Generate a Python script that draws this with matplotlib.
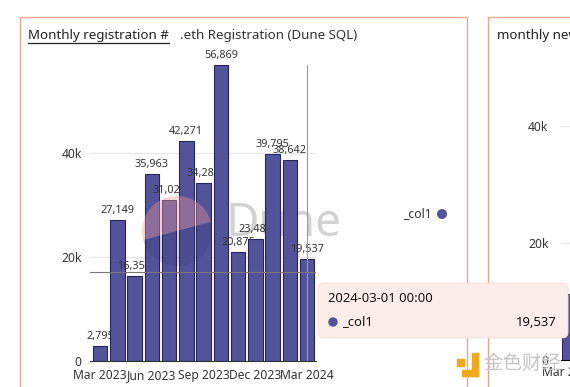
import matplotlib.pyplot as plt
from matplotlib.patches import Rectangle, FancyBboxPatch, Circle, Wedge

# data
months = ["Mar 2023", "Apr 2023", "May 2023", "Jun 2023", "Jul 2023", "Aug 2023",
          "Sep 2023", "Oct 2023", "Nov 2023", "Dec 2023", "Jan 2024", "Feb 2024", "Mar 2024"]
registrations = [2795, 27149, 16350, 35963, 31020, 42271, 34280, 56869,
                 20875, 23480, 39795, 38642, 19537]
tick_labels = ["Mar 2023", "Jun 2023", "Sep 2023", "Dec 2023", "Mar 2024"]
yticks = [0, 20000, 40000]
ytick_labels = ["0", "20k", "40k"]
side_values = [11200]
side_months = ["Mar 2023"]

bar_color = "#53539a"
edge_color = "#26265e"
border_color = "#e8a791"
plt.rcParams["font.family"] = ["Noto Sans", "DejaVu Sans"]

W, H = 570, 387
fig = plt.figure(figsize=(W / 100, H / 100), dpi=100)


def box(left, right, bottom, top):
    return [left / W, 1 - bottom / H, (right - left) / W, (bottom - top) / H]


def pixel_axes(z):
    a = fig.add_axes([0, 0, 1, 1], zorder=z)
    a.set_xlim(0, W)
    a.set_ylim(H, 0)
    a.axis("off")
    a.patch.set_visible(False)
    return a


# background layer: "Dune" word sits behind the bars
bg = pixel_axes(-1)
bg.text(225, 224, "Dune", fontsize=33, fontweight="bold", color="#d2d2d2", va="center")

# main chart
ax = fig.add_axes(box(90, 316, 361, 62))
ax.patch.set_visible(False)
x = list(range(len(months)))
bars = ax.bar(x, registrations, width=0.84, color=bar_color, edgecolor=edge_color,
              linewidth=0.8)
# bar i, then its label, then bar i+1 on top (labels get clipped like in Dune)
for i, v in enumerate(registrations):
    bars[i].set_zorder(3 + 2 * i)
    ax.annotate(f"{v:,}", (i, v), xytext=(0, 3), textcoords="offset points",
                ha="center", va="bottom", fontsize=7.8, color="#333333", zorder=4 + 2 * i)
ax.set_xlim(-0.58, 12.52)
ax.set_ylim(0, 57500)
ax.set_yticks(yticks, ytick_labels)
ax.set_xticks([months.index(t) for t in tick_labels], tick_labels)
ax.tick_params(length=0, labelsize=8.7, colors="#333333")
ax.tick_params(axis="y", pad=6)
ax.tick_params(axis="x", pad=5.5)
ax.grid(axis="y", color="#e6e6e6", linewidth=0.8, zorder=0)
ax.set_axisbelow(True)
for s in ["top", "right", "left"]:
    ax.spines[s].set_visible(False)
ax.spines["bottom"].set_color("#333333")
ax.spines["bottom"].set_zorder(40)
# hover crosshair
ax.axvline(12, 0, 0.99, color="#9a9a9a", linewidth=0.8, zorder=40)
ax.axhline(17115, color="#777777", linewidth=0.8, zorder=40)

# second (cut off) chart
ax2 = fig.add_axes(box(561, 621, 360, 67))
ax2.bar(range(len(side_values)), side_values, width=0.85, color=bar_color,
        edgecolor=edge_color, linewidth=0.8, zorder=3)
ax2.set_xlim(-0.5, 3.5)
ax2.set_ylim(0, 50000)
ax2.set_yticks(yticks, ytick_labels)
ax2.set_xticks(range(len(side_months)), side_months)
ax2.tick_params(length=0, labelsize=8.7, colors="#333333")
ax2.tick_params(axis="y", pad=9)
ax2.tick_params(axis="x", pad=4)
ax2.grid(axis="y", color="#e6e6e6", linewidth=0.8, zorder=0)
for s in ["top", "right", "left"]:
    ax2.spines[s].set_visible(False)

# translucent logo disc over the bars
mid = pixel_axes(1)
mid.add_patch(Wedge((177, 231), 35, 165, 345, color="#f29a9a", alpha=0.38, linewidth=0))
mid.add_patch(Wedge((177, 231), 35, 345, 165, color="#2a2a66", alpha=0.18, linewidth=0))

# foreground layer in pixel coordinates
ov = pixel_axes(10)
ov.add_patch(Rectangle((20, 17), 447, 420, fill=False, edgecolor=border_color, linewidth=1))
ov.add_patch(Rectangle((488, 17), 120, 420, fill=False, edgecolor=border_color, linewidth=1))

ov.text(28, 36, "Monthly registration #", fontsize=9.6, color="#222222", va="center")
ov.plot([28, 169], [43, 43], color="#222222", linewidth=0.9)
ov.text(180, 36, ".eth Registration (Dune SQL)", fontsize=9.6, color="#333333", va="center")
ov.text(497, 36, "monthly new registrations", fontsize=9.6, color="#222222", va="center")

# legend
ov.text(432, 214, "_col1", fontsize=8.8, color="#333333", ha="right", va="center")
ov.add_patch(Circle((442, 214), 4.3, color=bar_color))

# tooltip
ov.add_patch(FancyBboxPatch((318, 283), 250, 55, boxstyle="round,pad=0,rounding_size=6",
                            facecolor="#fdedea", edgecolor="#f6dcd6", linewidth=0.6, zorder=5))
ov.text(328, 299, "2024-03-01 00:00", fontsize=9.4, color="#111111", va="center", zorder=6)
ov.add_patch(Circle((333, 322), 4, color=bar_color, zorder=6))
ov.text(342, 322, "_col1", fontsize=9.4, color="#111111", va="center", zorder=6)
ov.text(557, 322, "19,537", fontsize=9.4, color="#111111", va="center", ha="right", zorder=6)

# 金色财经 watermark
logo = "#f0a81c"
ov.add_patch(Rectangle((472, 353), 6, 23, color=logo, zorder=6))
ov.add_patch(Rectangle((462, 370), 16, 6, color=logo, zorder=6))
ov.add_patch(Rectangle((457, 359), 7, 7, color=logo, zorder=6))
ov.text(483, 363, "金色财经", fontsize=14, color="#c4c4c4", va="center", zorder=6,
        family=["Noto Sans CJK SC", "DejaVu Sans"])

fig.savefig("out.png", dpi=100)
